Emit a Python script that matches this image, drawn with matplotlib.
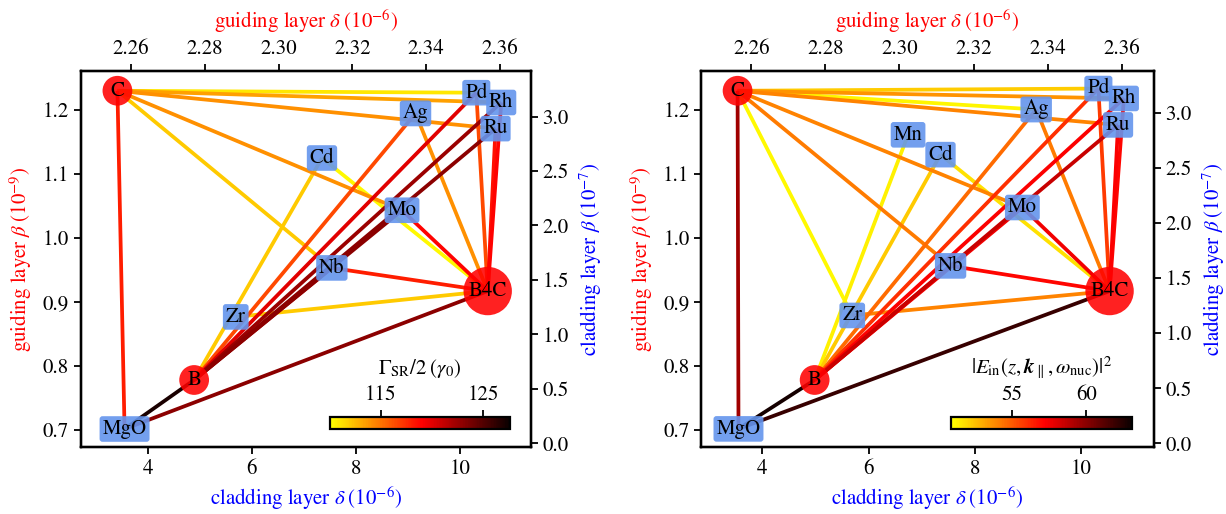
import matplotlib.pyplot as plt
import numpy as np
from matplotlib.collections import LineCollection
from matplotlib.colors import LinearSegmentedColormap, Normalize
from matplotlib.cm import ScalarMappable

plt.rcParams['font.family'] = 'STIXGeneral'
plt.rcParams['mathtext.fontset'] = 'stix'
plt.rcParams['font.size'] = 15
plt.rcParams['axes.linewidth'] = 1.6

# guiding layer materials: delta (1e-6) on top axis, beta (1e-9) on left axis
guide_names = ['C', 'B', 'B4C']
guide_delta = [2.2563, 2.2771, 2.3567]
guide_beta = [1.230, 0.778, 0.917]

# cladding layer materials: delta (1e-6) on bottom axis, beta (1e-7) on right axis
clad_names = ['MgO', 'Zr', 'Nb', 'Mo', 'Cd', 'Mn', 'Ag', 'Pd', 'Rh', 'Ru']
clad_delta = [3.55, 5.69, 7.54, 8.89, 7.35, 6.74, 9.15, 10.32, 10.80, 10.69]
clad_beta = [0.13, 1.16, 1.61, 2.14, 2.62, 2.80, 3.03, 3.22, 3.13, 2.89]

# superradiant decay rate for each guiding/cladding pair
gamma_src = ['C', 'C', 'C', 'C', 'C', 'C',
             'B', 'B', 'B', 'B', 'B', 'B', 'B', 'B',
             'B4C', 'B4C', 'B4C', 'B4C', 'B4C', 'B4C', 'B4C', 'B4C', 'B4C']
gamma_dst = ['Pd', 'Rh', 'Ru', 'Mo', 'Nb', 'MgO',
             'MgO', 'Cd', 'Ag', 'Pd', 'Rh', 'Ru', 'Mo', 'Nb',
             'MgO', 'Zr', 'Nb', 'Mo', 'Cd', 'Ag', 'Pd', 'Rh', 'Ru']
gamma_val = [111.0, 113.5, 114.0, 114.0, 112.0, 118.0,
             127.0, 112.0, 116.5, 120.0, 122.5, 123.0, 123.0, 122.0,
             123.0, 112.0, 118.0, 119.0, 110.3, 114.0, 116.5, 119.0, 118.5]

# field intensity at the nuclei for each guiding/cladding pair
field_src = ['C', 'C', 'C', 'C', 'C', 'C', 'C', 'C',
             'B', 'B', 'B', 'B', 'B', 'B', 'B', 'B', 'B',
             'B4C', 'B4C', 'B4C', 'B4C', 'B4C', 'B4C', 'B4C', 'B4C', 'B4C']
field_dst = ['Pd', 'Rh', 'Ag', 'Ru', 'Mo', 'Nb', 'Zr', 'MgO',
             'MgO', 'Mn', 'Cd', 'Ag', 'Pd', 'Rh', 'Ru', 'Mo', 'Nb',
             'MgO', 'Zr', 'Nb', 'Mo', 'Cd', 'Ag', 'Pd', 'Rh', 'Ru']
field_val = [52.2, 53.6, 51.2, 54.0, 54.0, 54.2, 51.1, 59.4,
             62.8, 51.3, 52.3, 54.6, 56.0, 57.2, 58.5, 57.5, 57.0,
             62.0, 54.0, 57.0, 57.5, 51.7, 54.2, 55.8, 57.0, 57.2]

hot_r = plt.get_cmap('hot_r')
cmap = LinearSegmentedColormap.from_list('hot_cut', hot_r(np.linspace(0.25, 1.0, 256)))


def draw_panel(fig, rect, src, dst, val, vmin, vmax, cticks, clabel, xlim, ylim, xlim_top, ylim_right):
    ax = fig.add_axes(rect)
    ax_top = ax.twiny()
    ax_right = ax.twinx()
    ax.set_xlim(xlim)
    ax.set_ylim(ylim)
    ax_top.set_xlim(xlim_top)
    ax_right.set_ylim(ylim_right)

    # map both coordinate systems onto the main axes
    g_pts = ax_top.transData.transform(np.column_stack([guide_delta, guide_beta]))
    g_pts = ax.transData.inverted().transform(g_pts)
    c_pts = ax_right.transData.transform(np.column_stack([clad_delta, clad_beta]))
    c_pts = ax.transData.inverted().transform(c_pts)
    gpos = dict(zip(guide_names, g_pts))
    cpos = dict(zip(clad_names, c_pts))

    norm = Normalize(vmin, vmax)
    order = np.argsort(val)
    segs = [[gpos[src[i]], cpos[dst[i]]] for i in order]
    lc = LineCollection(segs, colors=cmap(norm(np.array(val)[order])), linewidths=2.7, zorder=2)
    ax.add_collection(lc)

    for name in sorted(set(src)):
        x, y = gpos[name]
        ax.text(x, y, name, ha='center', va='center', fontsize=15, zorder=5,
                bbox=dict(boxstyle='circle,pad=0.24', fc='red', ec='none', alpha=0.87))
    for name in sorted(set(dst)):
        x, y = cpos[name]
        ax.text(x, y, name, ha='center', va='center', fontsize=15, zorder=5,
                bbox=dict(boxstyle='round,pad=0.14', fc='cornflowerblue', ec='none', alpha=0.9))

    ax.set_xticks([4, 6, 8, 10])
    ax.set_xlabel(r'cladding layer $\delta\;(10^{-6})$', color='blue', labelpad=4)
    ax.set_ylabel(r'guiding layer $\beta\;(10^{-9})$', color='red', labelpad=6)
    ax_top.set_xlabel(r'guiding layer $\delta\;(10^{-6})$', color='red', labelpad=8)
    ax_right.set_ylabel(r'cladding layer $\beta\;(10^{-7})$', color='blue', labelpad=6)
    ax_top.set_xticks([2.26, 2.28, 2.30, 2.32, 2.34, 2.36])
    ax_right.set_yticks([0.0, 0.5, 1.0, 1.5, 2.0, 2.5, 3.0])
    for a in (ax, ax_top, ax_right):
        a.tick_params(length=5, width=1.3, labelsize=15)

    cax = ax.inset_axes([0.553, 0.048, 0.40, 0.032])
    cb = fig.colorbar(ScalarMappable(norm=norm, cmap=cmap), cax=cax, orientation='horizontal')
    cb.set_ticks(cticks)
    cax.xaxis.set_ticks_position('top')
    cax.xaxis.set_label_position('top')
    cax.tick_params(length=5, width=1.3, labelsize=15)
    cb.outline.set_linewidth(1.6)
    cb.set_label(clabel, fontsize=15, labelpad=8)
    return ax


fig = plt.figure(figsize=(12.26, 5.14), dpi=100)

draw_panel(fig, [0.066, 0.130, 0.367, 0.732], gamma_src, gamma_dst, gamma_val,
           110.0, 127.6, [115, 125], r'$\Gamma_{\rm SR}/2\;(\gamma_0)$',
           (2.71, 11.37), (0.673, 1.261), (2.2464, 2.3684), (-0.037, 3.42))

draw_panel(fig, [0.572, 0.130, 0.369, 0.732], field_src, field_dst, field_val,
           50.9, 63.1, [55, 60], r'$|E_{\rm in}(z,\boldsymbol{k}_{\parallel},\omega_{\rm nuc})|^2$',
           (2.85, 11.36), (0.673, 1.261), (2.2465, 2.3686), (-0.036, 3.38))

fig.savefig('out.png', dpi=100)
